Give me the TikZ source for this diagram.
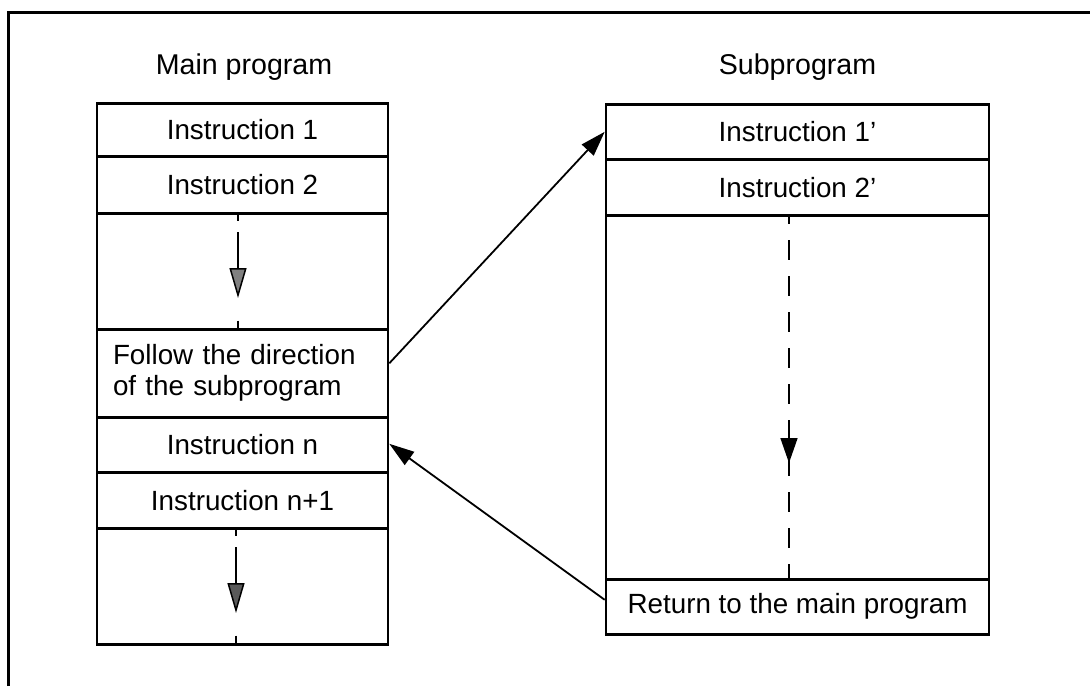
\documentclass[tikz,border=0pt]{standalone}
\usepackage{fontspec}
\setmainfont{Liberation Sans}
\usetikzlibrary{arrows.meta,calc}
\begin{document}
\begin{tikzpicture}[x=1pt,y=-1pt,
  txt/.style={font=\fontsize{27.8}{31}\selectfont},
  mcell/.style={draw,line width=2.6pt,minimum width=291pt,inner sep=0pt,anchor=north,txt},
  scell/.style={draw,line width=2.6pt,minimum width=383pt,inner sep=0pt,anchor=north,txt},
  title/.style={anchor=base,inner sep=0pt,font=\fontsize{28.6}{32}\selectfont},
  link/.style={line width=1.8pt,-{Triangle[length=25pt,width=16pt]}},
  tick/.style={line width=1.5pt},
  flow/.style={line width=1.5pt,-{Triangle[length=30pt,width=17pt,fill=#1]}},
  frame/.style={line width=2.2pt}
]
\useasboundingbox (0,0) rectangle (1090,686);

% surrounding frame
\draw[frame] (8.5,686) -- (8.5,12.5) -- (1090,12.5);

% titles
\node[title] (tmain) at (244,74) {Main program};
\node[title] (tsub)  at (797.5,74) {Subprogram};

% main program column
\node[mcell,minimum height=53pt]  (m1) at (242.5,102) {Instruction 1};
\node[mcell,minimum height=57pt]  (m2) at (242.5,155) {Instruction 2};
\node[mcell,minimum height=116pt] (m3) at (242.5,212) {};
\node[mcell,minimum height=88pt,text width=259pt,inner xsep=16pt,align=left] (m4) at (242.5,328)
  {Follow the direction\\of the subprogram};
\node[mcell,minimum height=55pt]  (m5) at (242.5,416) {Instruction n};
\node[mcell,minimum height=56pt]  (m6) at (242.5,471) {Instruction n+1};
\node[mcell,minimum height=116pt] (m7) at (242.5,527) {};

% subprogram column
\node[scell,minimum height=55pt]  (s1) at (797.5,103) {Instruction 1'};
\node[scell,minimum height=56pt]  (s2) at (797.5,158) {Instruction 2'};
\node[scell,minimum height=364pt] (s3) at (797.5,214) {};
\node[scell,minimum height=55pt]  (s4) at (797.5,578) {Return to the main program};

% sequential flow inside the main program
\draw[tick] ($(m3.north)+(-4.5,0)$) -- ($(m3.north)+(-4.5,9)$);
\draw[flow=gray] ($(m3.north)+(-4.5,20)$) -- ($(m3.north)+(-4.5,86)$);
\draw[tick] ($(m3.south)+(-4.5,-10)$) -- ($(m3.south)+(-4.5,0)$);

\draw[tick] ($(m7.north)+(-6.5,0)$) -- ($(m7.north)+(-6.5,9)$);
\draw[flow=black!65] ($(m7.north)+(-6.5,20)$) -- ($(m7.north)+(-6.5,86)$);
\draw[tick] ($(m7.south)+(-6.5,-10)$) -- ($(m7.south)+(-6.5,0)$);

% sequential flow inside the subprogram
\draw[tick,dash pattern=on 20pt off 16pt,dash phase=10pt]
  ($(s3.north)+(-8.5,0)$) -- ($(s3.south)+(-8.5,0)$);
\draw[line width=1.5pt,-{Triangle[length=25pt,width=17pt]}]
  ($(s3.north)+(-8.5,207)$) -- ($(s3.north)+(-8.5,249)$);

% call and return
\draw[link] ($(m4.east)+(0,-10)$) -- (s1.west);
\draw[link] ($(s4.west)+(0,-7)$) -- ($(m5.east)+(0,-1)$);
\end{tikzpicture}
\end{document}
